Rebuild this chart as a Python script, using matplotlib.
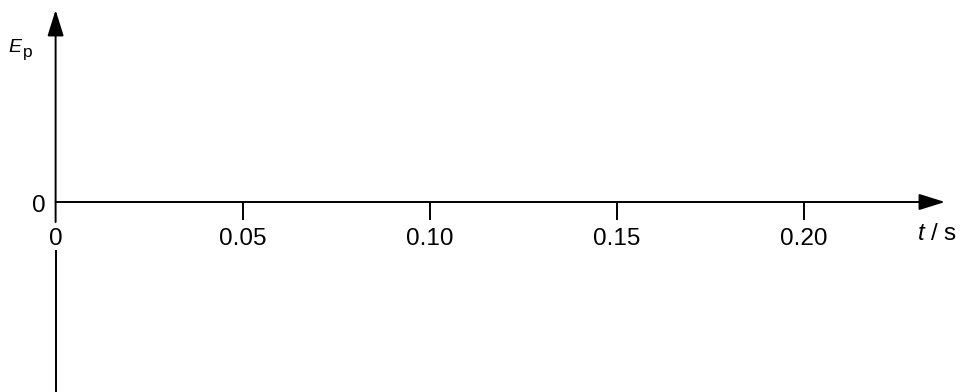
import matplotlib
matplotlib.use("Agg")
import matplotlib.pyplot as plt

# Axis data
x_ticks = [0.05, 0.10, 0.15, 0.20]
x_tick_labels = ["0.05", "0.10", "0.15", "0.20"]
x_origin_label = "0"
y_origin_label = "0"
x_label = "$t$ / s"

plt.rcParams['font.family'] = ['Liberation Sans', 'DejaVu Sans']
plt.rcParams['mathtext.fontset'] = 'custom'
plt.rcParams['mathtext.rm'] = 'Liberation Sans'
plt.rcParams['mathtext.it'] = 'Liberation Sans:italic'

fig = plt.figure(figsize=(9.6, 3.92), dpi=100)
ax = fig.add_axes([0, 0, 1, 1])

# x in seconds, y in arbitrary units (zero on the time axis)
px_per_s = 3742.0
x0_px = 55.6
ax.set_xlim(-x0_px / px_per_s, (960 - x0_px) / px_per_s)
ax.set_ylim(-190, 202)
ax.axis('off')

lw = 1.4
arrow = dict(arrowstyle='-|>,head_length=0.8,head_width=0.25',
             mutation_scale=20, lw=lw, color='black', shrinkA=0, shrinkB=0)

# time axis with arrow
t_end = (945 - x0_px) / px_per_s
ax.annotate('', xy=(t_end, 0), xytext=(0, 0), arrowprops=arrow)

# energy axis with arrow (broken around the origin label)
ax.annotate('', xy=(0, 192), xytext=(0, -20), arrowprops=arrow)
ax.plot([0, 0], [-48, -190], color='black', lw=lw, solid_capstyle='butt')

# ticks and labels
for t, lab in zip(x_ticks, x_tick_labels):
    ax.plot([t, t], [0, -18], color='black', lw=lw, solid_capstyle='butt')
    ax.text(t, -43, lab, ha='center', va='baseline', fontsize=17.5)

ax.text(0, -43, x_origin_label, ha='center', va='baseline', fontsize=17.5)
ax.text(-16.5 / px_per_s, -10, y_origin_label, ha='center', va='baseline', fontsize=17.5)
ax.text((917 - x0_px) / px_per_s, -38, x_label, ha='left', va='baseline', fontsize=17.5)

# E_p label
ax.text((8 - x0_px) / px_per_s, 202 - 52.5, "E", ha='left', va='baseline',
        fontsize=14, style='italic')
ax.text((23 - x0_px) / px_per_s, 202 - 56.5, "p", ha='left', va='baseline',
        fontsize=12.5)

fig.savefig("out.png", dpi=100)
